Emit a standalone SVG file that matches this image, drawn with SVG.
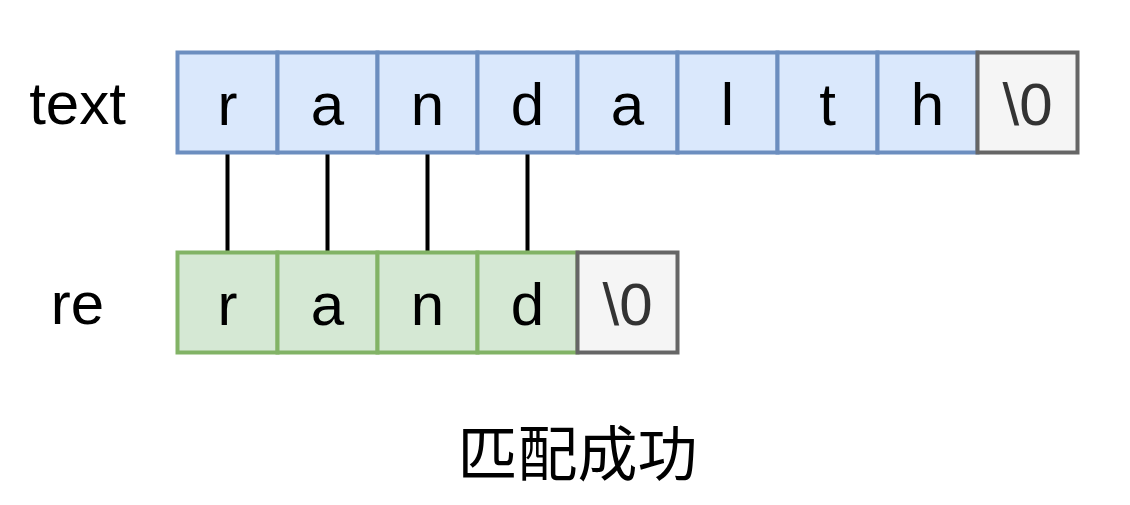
<svg xmlns="http://www.w3.org/2000/svg" width="1130" height="505" viewBox="0 0 1130 505">
<style>
.b{fill:#dae8fc;stroke:#6c8ebf;stroke-width:4}
.g{fill:#d5e8d4;stroke:#82b366;stroke-width:4}
.n{fill:#f5f5f5;stroke:#666666;stroke-width:4}
.t{font-family:"Liberation Sans",Arial,sans-serif;font-size:60px;text-anchor:middle;fill:#000}
.tn{font-family:"Liberation Sans",Arial,sans-serif;font-size:60px;text-anchor:middle;fill:#333333}
.l{font-family:"Liberation Sans",Arial,sans-serif;font-size:60px;text-anchor:middle;fill:#000}
.c{font-family:"Liberation Sans","Noto Sans CJK SC",sans-serif;font-size:60px;text-anchor:middle;fill:#000}
.e{stroke:#000;stroke-width:4;fill:none}
</style>
<rect width="1130" height="505" fill="#ffffff"/>
<g id="connectors">
<line class="e" x1="227.5" y1="152.5" x2="227.5" y2="252.5"/>
<line class="e" x1="327.5" y1="152.5" x2="327.5" y2="252.5"/>
<line class="e" x1="427.5" y1="152.5" x2="427.5" y2="252.5"/>
<line class="e" x1="527.5" y1="152.5" x2="527.5" y2="252.5"/>
</g>
<g id="label-text"><text class="l" x="77.5" y="124">text</text></g>
<g id="label-re"><text class="l" x="77.5" y="324">re</text></g>
<g id="t0"><rect class="b" x="177.5" y="52.5" width="100" height="100"/><text class="t" x="227.5" y="125">r</text></g>
<g id="t1"><rect class="b" x="277.5" y="52.5" width="100" height="100"/><text class="t" x="327.5" y="125">a</text></g>
<g id="t2"><rect class="b" x="377.5" y="52.5" width="100" height="100"/><text class="t" x="427.5" y="125">n</text></g>
<g id="t3"><rect class="b" x="477.5" y="52.5" width="100" height="100"/><text class="t" x="527.5" y="125">d</text></g>
<g id="t4"><rect class="b" x="577.5" y="52.5" width="100" height="100"/><text class="t" x="627.5" y="125">a</text></g>
<g id="t5"><rect class="b" x="677.5" y="52.5" width="100" height="100"/><text class="t" x="727.5" y="125">l</text></g>
<g id="t6"><rect class="b" x="777.5" y="52.5" width="100" height="100"/><text class="t" x="827.5" y="125">t</text></g>
<g id="t7"><rect class="b" x="877.5" y="52.5" width="100" height="100"/><text class="t" x="927.5" y="125">h</text></g>
<g id="t8"><rect class="n" x="977.5" y="52.5" width="100" height="100"/><text class="tn" x="1027.5" y="125">\0</text></g>
<g id="r0"><rect class="g" x="177.5" y="252.5" width="100" height="100"/><text class="t" x="227.5" y="325">r</text></g>
<g id="r1"><rect class="g" x="277.5" y="252.5" width="100" height="100"/><text class="t" x="327.5" y="325">a</text></g>
<g id="r2"><rect class="g" x="377.5" y="252.5" width="100" height="100"/><text class="t" x="427.5" y="325">n</text></g>
<g id="r3"><rect class="g" x="477.5" y="252.5" width="100" height="100"/><text class="t" x="527.5" y="325">d</text></g>
<g id="r4"><rect class="n" x="577.5" y="252.5" width="100" height="100"/><text class="tn" x="627.5" y="325">\0</text></g>
<g id="result"><text class="c" x="577.5" y="476">匹配成功</text></g>
</svg>
